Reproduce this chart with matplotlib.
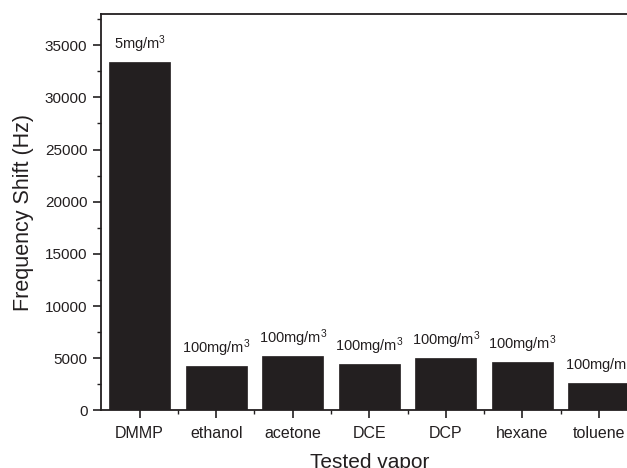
import matplotlib
matplotlib.use('Agg')
import matplotlib.pyplot as plt
from matplotlib.ticker import MultipleLocator, FixedLocator

plt.rcParams['font.family'] = ['Liberation Sans', 'DejaVu Sans']
plt.rcParams['mathtext.fontset'] = 'custom'
plt.rcParams['mathtext.rm'] = 'Liberation Sans'
plt.rcParams['mathtext.it'] = 'Liberation Sans'

vapors = ['DMMP', 'ethanol', 'acetone', 'DCE', 'DCP', 'hexane', 'toluene']
shift_hz = [33400, 4280, 5230, 4440, 4980, 4600, 2590]
conc = ['5mg/m$^3$', '100mg/m$^3$', '100mg/m$^3$', '100mg/m$^3$',
        '100mg/m$^3$', '100mg/m$^3$', '100mg/m$^3$']

fig = plt.figure(figsize=(6.27, 4.68), dpi=100)
# right edge of the frame runs past the figure border
ax = fig.add_axes([0.1616, 0.1233, 0.8547, 0.8468])

pos = list(range(1, len(vapors) + 1))
ax.bar(pos, shift_hz, width=0.8, color='#231f20', edgecolor='#231f20', linewidth=0.5)

for x, y, txt in zip(pos, shift_hz, conc):
    ax.annotate(txt, (x, y), xytext=(0, 5), textcoords='offset points',
                ha='center', va='bottom', fontsize=10.5, color='#231f20')

ax.set_xlim(0.5, 7.5)
ax.set_ylim(0, 38000)
ax.set_xticks(pos)
ax.set_xticklabels(vapors)
ax.xaxis.set_minor_locator(FixedLocator([1.5, 2.5, 3.5, 4.5, 5.5, 6.5]))
ax.yaxis.set_major_locator(MultipleLocator(5000))
ax.yaxis.set_minor_locator(MultipleLocator(2500))

ax.tick_params(which='major', direction='out', length=6, width=1.2, labelsize=11,
               colors='#231f20')
ax.tick_params(which='minor', direction='out', length=3, width=1.0, colors='#231f20')
ax.tick_params(axis='x', which='major', pad=5, labelsize=11.5)
ax.tick_params(axis='y', which='major', pad=4)

for s in ax.spines.values():
    s.set_linewidth(1.3)
    s.set_color('#231f20')

ax.set_ylabel('Frequency Shift (Hz)', fontsize=15.5, color='#231f20', labelpad=8)
ax.set_xlabel('Tested vapor', fontsize=15, color='#231f20', labelpad=9)

fig.savefig('out.png', dpi=100)
